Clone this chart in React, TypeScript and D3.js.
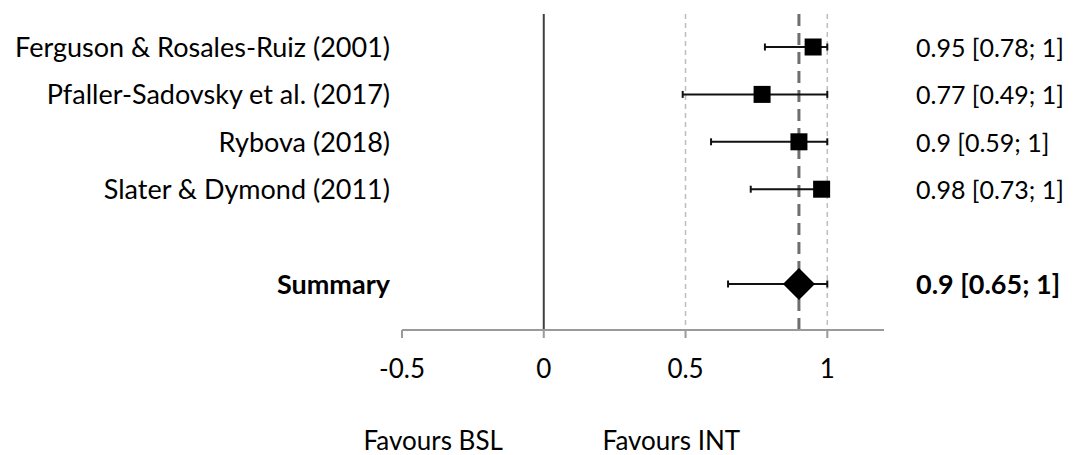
import React, {useEffect, useRef} from 'react';
import * as d3 from 'd3';

const studies = [
  'Ferguson & Rosales-Ruiz (2001)',
  'Pfaller-Sadovsky et al. (2017)',
  'Rybova (2018)',
  'Slater & Dymond (2011)',
];
const estimates = [0.95, 0.77, 0.9, 0.98];
const lowers = [0.78, 0.49, 0.59, 0.73];
const uppers = [1, 1, 1, 1];
const ciLabels = [
  '0.95 [0.78; 1]',
  '0.77 [0.49; 1]',
  '0.9 [0.59; 1]',
  '0.98 [0.73; 1]',
];
const summaryLabel = 'Summary';
const summaryEstimate = 0.9;
const summaryLower = 0.65;
const summaryUpper = 1;
const summaryCiLabel = '0.9 [0.65; 1]';
const xTicks = [-0.5, 0, 0.5, 1];
const refLines = [0.5, 1];
const favourLabels = ['Favours BSL', 'Favours INT'];

const FONT = 'Lato, "Open Sans", sans-serif';

const ForestPlot: React.FC<{width?: number; height?: number}> = ({
  width = 1083,
  height = 455,
}) => {
  const svgRef = useRef<SVGSVGElement | null>(null);

  useEffect(() => {
    if (!svgRef.current) return;
    const svg = d3.select(svgRef.current);
    svg.selectAll('*').remove();

    const x = d3.scaleLinear().domain([-0.5, 1.2]).range([402, 884]);
    // rows 0..3 are studies, row 5 is the summary
    const y = d3.scaleLinear().domain([0, 5]).range([47, 284]);
    const top = 14;
    const axisY = 330;

    // reference lines
    svg
      .selectAll('.ref')
      .data(refLines)
      .enter()
      .append('line')
      .attr('x1', (d) => x(d))
      .attr('x2', (d) => x(d))
      .attr('y1', top)
      .attr('y2', axisY)
      .attr('stroke', '#bdbdbd')
      .attr('stroke-width', 1.5)
      .attr('stroke-dasharray', '5,4');

    svg
      .append('line')
      .attr('x1', x(0))
      .attr('x2', x(0))
      .attr('y1', top)
      .attr('y2', axisY)
      .attr('stroke', '#404040')
      .attr('stroke-width', 2);

    svg
      .append('line')
      .attr('x1', x(summaryEstimate))
      .attr('x2', x(summaryEstimate))
      .attr('y1', top)
      .attr('y2', axisY + 2)
      .attr('stroke', '#6e6e6e')
      .attr('stroke-width', 3)
      .attr('stroke-dasharray', '12,7');

    // x axis
    const axis = svg.append('g').attr('transform', `translate(0,${axisY})`);
    axis
      .append('line')
      .attr('x1', x.range()[0])
      .attr('x2', x.range()[1])
      .attr('stroke', '#9a9a9a')
      .attr('stroke-width', 2);
    axis
      .selectAll('.tick')
      .data(xTicks)
      .enter()
      .append('line')
      .attr('x1', (d) => x(d))
      .attr('x2', (d) => x(d))
      .attr('y1', 0)
      .attr('y2', 8)
      .attr('stroke', '#9a9a9a')
      .attr('stroke-width', 2);
    axis
      .selectAll('.lbl')
      .data(xTicks)
      .enter()
      .append('text')
      .attr('x', (d) => x(d))
      .attr('y', 48)
      .attr('text-anchor', 'middle')
      .style('font-family', FONT)
      .style('font-size', '26px')
      .style('fill', '#000')
      .text((d) => String(d));

    // study rows
    const rows = studies.map((s, i) => ({
      name: s,
      est: estimates[i],
      lo: lowers[i],
      hi: uppers[i],
      ci: ciLabels[i],
      row: i,
    }));

    const g = svg.selectAll('.row').data(rows).enter().append('g');

    g.append('line')
      .attr('x1', (d) => x(d.lo))
      .attr('x2', (d) => x(d.hi))
      .attr('y1', (d) => y(d.row))
      .attr('y2', (d) => y(d.row))
      .attr('stroke', '#111')
      .attr('stroke-width', 2);
    ['lo', 'hi'].forEach((k) => {
      g.append('line')
        .attr('x1', (d: any) => x(d[k]))
        .attr('x2', (d: any) => x(d[k]))
        .attr('y1', (d) => y(d.row) - 3.5)
        .attr('y2', (d) => y(d.row) + 3.5)
        .attr('stroke', '#111')
        .attr('stroke-width', 2);
    });
    g.append('rect')
      .attr('x', (d) => x(d.est) - 8.5)
      .attr('y', (d) => y(d.row) - 8.5)
      .attr('width', 17)
      .attr('height', 17)
      .attr('fill', '#000');

    g.append('text')
      .attr('x', 390)
      .attr('y', (d) => y(d.row) + 10)
      .attr('text-anchor', 'end')
      .style('font-family', FONT)
      .style('font-size', '27px')
      .style('fill', '#000')
      .text((d) => d.name);
    g.append('text')
      .attr('x', 916)
      .attr('y', (d) => y(d.row) + 10)
      .style('font-family', FONT)
      .style('font-size', '25px')
      .style('fill', '#000')
      .text((d) => d.ci);

    // summary row
    const sy = y(5);
    svg
      .append('line')
      .attr('x1', x(summaryLower))
      .attr('x2', x(summaryUpper))
      .attr('y1', sy)
      .attr('y2', sy)
      .attr('stroke', '#111')
      .attr('stroke-width', 2);
    [summaryLower, summaryUpper].forEach((v) => {
      svg
        .append('line')
        .attr('x1', x(v))
        .attr('x2', x(v))
        .attr('y1', sy - 3.5)
        .attr('y2', sy + 3.5)
        .attr('stroke', '#111')
        .attr('stroke-width', 2);
    });
    const cx = x(summaryEstimate);
    svg
      .append('path')
      .attr(
        'd',
        `M${cx - 16},${sy} L${cx},${sy - 16} L${cx + 16},${sy} L${cx},${sy + 16} Z`
      )
      .attr('fill', '#000');
    svg
      .append('text')
      .attr('x', 390)
      .attr('y', sy + 10)
      .attr('text-anchor', 'end')
      .style('font-family', FONT)
      .style('font-size', '27px')
      .style('font-weight', 'bold')
      .style('fill', '#000')
      .text(summaryLabel);
    svg
      .append('text')
      .attr('x', 916)
      .attr('y', sy + 10)
      .style('font-family', FONT)
      .style('font-size', '27px')
      .style('font-weight', 'bold')
      .style('fill', '#000')
      .text(summaryCiLabel);

    // favours labels
    svg
      .selectAll('.fav')
      .data(favourLabels)
      .enter()
      .append('text')
      .attr('x', (_d, i) => (i === 0 ? x(-0.39) : x(0.45)))
      .attr('y', 450)
      .attr('text-anchor', 'middle')
      .style('font-family', FONT)
      .style('font-size', '26px')
      .style('fill', '#000')
      .text((d) => d);
  }, [width, height]);

  return (
    <svg
      ref={svgRef}
      width={width}
      height={height}
      style={{position: 'absolute', left: 0, top: 0, background: 'white'}}
    />
  );
};

export default function App() {
  return <ForestPlot />;
}
